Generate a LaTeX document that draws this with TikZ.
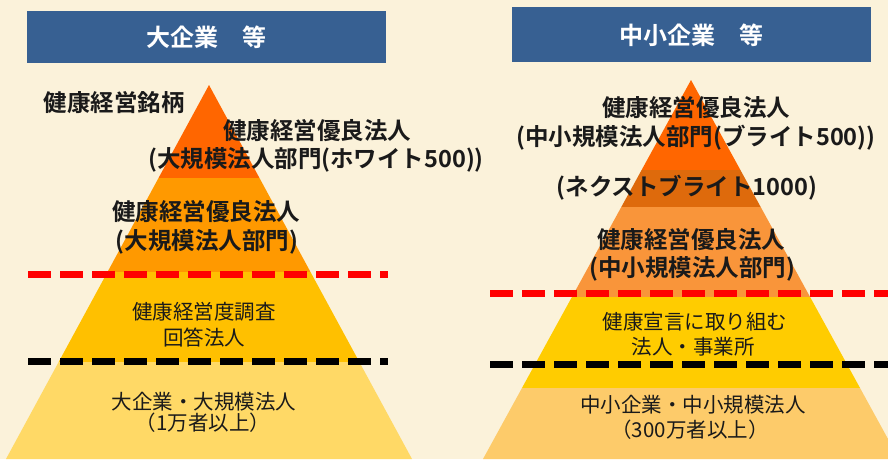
\documentclass[tikz,border=0pt]{standalone}
\usepackage{fontspec}
\usepackage{xcolor}
\newfontfamily\jp[BoldFont={Noto Sans CJK JP Bold}]{Noto Sans CJK JP}

\definecolor{bg}{HTML}{FBF2DA}
\definecolor{hdrblue}{HTML}{376092}
\definecolor{txt}{HTML}{1A1A1A}
\definecolor{lvA}{HTML}{FF6600}
\definecolor{lvB}{HTML}{FF9900}
\definecolor{lvC}{HTML}{FFC000}
\definecolor{lvD}{HTML}{FFD966}
\definecolor{rvB}{HTML}{DE6A0C}
\definecolor{rvC}{HTML}{F9953A}
\definecolor{rvD}{HTML}{FFCC00}
\definecolor{rvE}{HTML}{FDCB6A}

\begin{document}
\begin{tikzpicture}
  [x=1pt,y=-1pt,
   every node/.style={inner sep=0pt},
   hdr/.style={font=\jp\bfseries\fontsize{24}{28}\selectfont,text=white},
   big/.style={font=\jp\bfseries\fontsize{23.5}{28}\selectfont,text=txt},
   small/.style={font=\jp\fontsize{20.5}{24}\selectfont,text=txt},
   redline/.style={draw=red,line width=7pt,dash pattern=on 23pt off 9pt},
   blkline/.style={draw=black,line width=7pt,dash pattern=on 23pt off 9pt}]

  \fill[bg] (0,0) rectangle (888,459);
  \useasboundingbox (0,0) rectangle (888,459);

  % headers
  \fill[hdrblue] (27,11) rectangle (386,63);
  \fill[hdrblue] (512,7) rectangle (871,62);
  \node[hdr] (h1) at (206.5,37) {大企業　等};
  \node[hdr] (h2) at (691.5,35) {中小企業　等};

  % left pyramid
  \begin{scope}
    \clip (209,85) -- (6,459) -- (412,459) -- cycle;
    \fill[lvA] (0,80) rectangle (420,178);
    \fill[lvB] (0,178) rectangle (420,272);
    \fill[lvC] (0,272) rectangle (420,362);
    \fill[lvD] (0,362) rectangle (420,460);
  \end{scope}

  % right pyramid
  \begin{scope}
    \clip (691,80) -- (483,459) -- (899,459) -- cycle;
    \fill[lvA] (470,75) rectangle (900,170);
    \fill[rvB] (470,170) rectangle (900,207);
    \fill[rvC] (470,207) rectangle (900,297);
    \fill[rvD] (470,297) rectangle (900,388);
    \fill[rvE] (470,388) rectangle (900,460);
  \end{scope}

  % boundaries
  \draw[redline] (28,274) -- (388,274);
  \draw[blkline] (28,361) -- (388,361);
  \draw[redline] (490,293) -- (888,293);
  \draw[blkline] (490,364.5) -- (888,364.5);

  % left labels
  \node[big] (l1) at (114,103) {健康経営銘柄};
  \node[big] (l2) at (317,131) {健康経営優良法人};
  \node[big] (l3) at (316,160) {(大規模法人部門(ホワイト500))};
  \node[big] (l4) at (206,212) {健康経営優良法人};
  \node[big] (l5) at (207,242) {(大規模法人部門)};
  \node[small] (l6) at (204,312) {健康経営度調査};
  \node[small] (l7) at (204,338) {回答法人};
  \node[small] (l8) at (204,402) {大企業・大規模法人};
  \node[small] (l9) at (203,423) {（1万者以上）};

  % right labels
  \node[big] (r1) at (696,108) {健康経営優良法人};
  \node[big] (r2) at (696,138) {(中小規模法人部門(ブライト500))};
  \node[big] (r3) at (687,188) {(ネクストブライト1000)};
  \node[big] (r4) at (691,240) {健康経営優良法人};
  \node[big] (r5) at (692,269) {(中小規模法人部門)};
  \node[small] (r6) at (695,322) {健康宣言に取り組む};
  \node[small] (r7) at (693,347) {法人・事業所};
  \node[small] (r8) at (693,405) {中小企業・中小規模法人};
  \node[small] (r9) at (690,430) {（300万者以上）};

\end{tikzpicture}
\end{document}
